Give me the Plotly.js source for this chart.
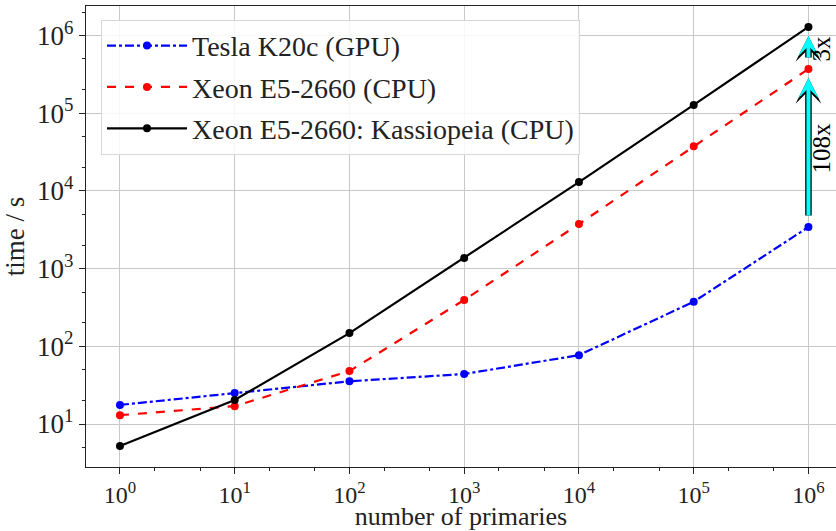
<!DOCTYPE html>
<html><head><meta charset="utf-8">
<script src="https://cdn.plot.ly/plotly-3.0.1.min.js"></script>
<style>html,body{margin:0;padding:0;background:#fff}#chart{width:836px;height:531px}</style>
</head><body><div id="chart"></div>
<script>
const primaries = [1, 10, 100, 1000, 10000, 100000, 1000000];
const gpuTimes = [17.6, 25, 35.5, 44, 77, 375, 3430];
const cpuTimes = [13, 17, 48, 395, 3750, 37500, 371000];
const kassTimes = [5.2, 20.4, 148, 1370, 13000, 128000, 1290000];
const seriesNames = ["Tesla K20c (GPU)", "Xeon E5-2660 (CPU)", "Xeon E5-2660: Kassiopeia (CPU)"];
const speedupLabels = ["108x", "3x"];
const xTickExps = [0, 1, 2, 3, 4, 5, 6];
const yTickExps = [1, 2, 3, 4, 5, 6];

const font = "Liberation Serif, serif";
const tickText = e => "10<sup>" + e + "</sup>";
const traces = [
  {x: primaries, y: gpuTimes, name: seriesNames[0], legendgroup: "a", mode: "lines+markers",
   line: {color: "#0000ff", width: 2.2, dash: "dashdot"}, marker: {color: "#0000ff", size: 8}},
  {x: primaries, y: cpuTimes, name: seriesNames[1], legendgroup: "b", mode: "lines+markers",
   line: {color: "#ff0000", width: 2.2, dash: "dash"}, marker: {color: "#ff0000", size: 8}},
  {x: primaries, y: kassTimes, name: seriesNames[2], legendgroup: "c", mode: "lines+markers",
   line: {color: "#000000", width: 2.2}, marker: {color: "#000000", size: 8}}
];

const last = primaries.length - 1;
const lx = Math.log10(primaries[last]);
function arrow(from, to, color, w, hs) {
  return {x: lx, y: Math.log10(to), ax: lx, ay: Math.log10(from), xref: "x", yref: "y",
    axref: "x", ayref: "y", showarrow: true, arrowhead: 3, arrowsize: hs, arrowwidth: w,
    arrowcolor: color, standoff: 9, startstandoff: 10, text: ""};
}
const annotations = [
  arrow(gpuTimes[last], cpuTimes[last], "#000", 6.5, 0.66),
  arrow(gpuTimes[last], cpuTimes[last], "#00ffff", 4, 0.85),
  arrow(cpuTimes[last], kassTimes[last], "#000", 6.5, 0.66),
  arrow(cpuTimes[last], kassTimes[last], "#00ffff", 4, 0.85),
  {x: lx, y: (Math.log10(gpuTimes[last]) + Math.log10(cpuTimes[last])) / 2, xref: "x", yref: "y",
   text: speedupLabels[0], showarrow: false, textangle: -90, xshift: 13, font: {family: font, size: 25, color: "#000"}},
  {x: lx, y: (Math.log10(cpuTimes[last]) + Math.log10(kassTimes[last])) / 2, xref: "x", yref: "y",
   text: speedupLabels[1], showarrow: false, textangle: -90, xshift: 13, font: {family: font, size: 25, color: "#000"}}
];

const axisCommon = {
  type: "log", showgrid: true, gridcolor: "#c8c8c8", gridwidth: 1,
  showline: true, linecolor: "#222", linewidth: 1.2, mirror: true, ticks: "outside", ticklen: 6,
  tickcolor: "#222", zeroline: false, tickfont: {family: font, size: 27, color: "#222"},
  minor: {ticks: "outside", ticklen: 3, tickcolor: "#222", showgrid: false}
};
const layout = {
  width: 836, height: 531, margin: {l: 86, r: 0, t: 6, b: 64},
  paper_bgcolor: "#fff", plot_bgcolor: "#fff",
  xaxis: Object.assign({}, axisCommon, {range: [-0.296, 6.24],
    tickfont: {family: font, size: 24, color: "#222"},
    tickvals: xTickExps.map(e => Math.pow(10, e)), ticktext: xTickExps.map(tickText),
    title: {text: "number of primaries", font: {family: font, size: 26, color: "#222"}, standoff: 7}}),
  yaxis: Object.assign({}, axisCommon, {range: [0.447, 6.38],
    tickvals: yTickExps.map(e => Math.pow(10, e)), ticktext: yTickExps.map(tickText),
    title: {text: "time / s", font: {family: font, size: 27, color: "#222"}, standoff: 8}}),
  legend: {x: 0.02, y: 0.97, xanchor: "left", yanchor: "top", bgcolor: "rgba(255,255,255,0.85)",
    bordercolor: "#d8d8d8", borderwidth: 1, tracegroupgap: 2, itemwidth: 80,
    font: {family: font, size: 28, color: "#222"}},
  annotations: annotations,
  showlegend: true
};
Plotly.newPlot("chart", traces, layout, {displayModeBar: false, staticPlot: true});
</script></body></html>
